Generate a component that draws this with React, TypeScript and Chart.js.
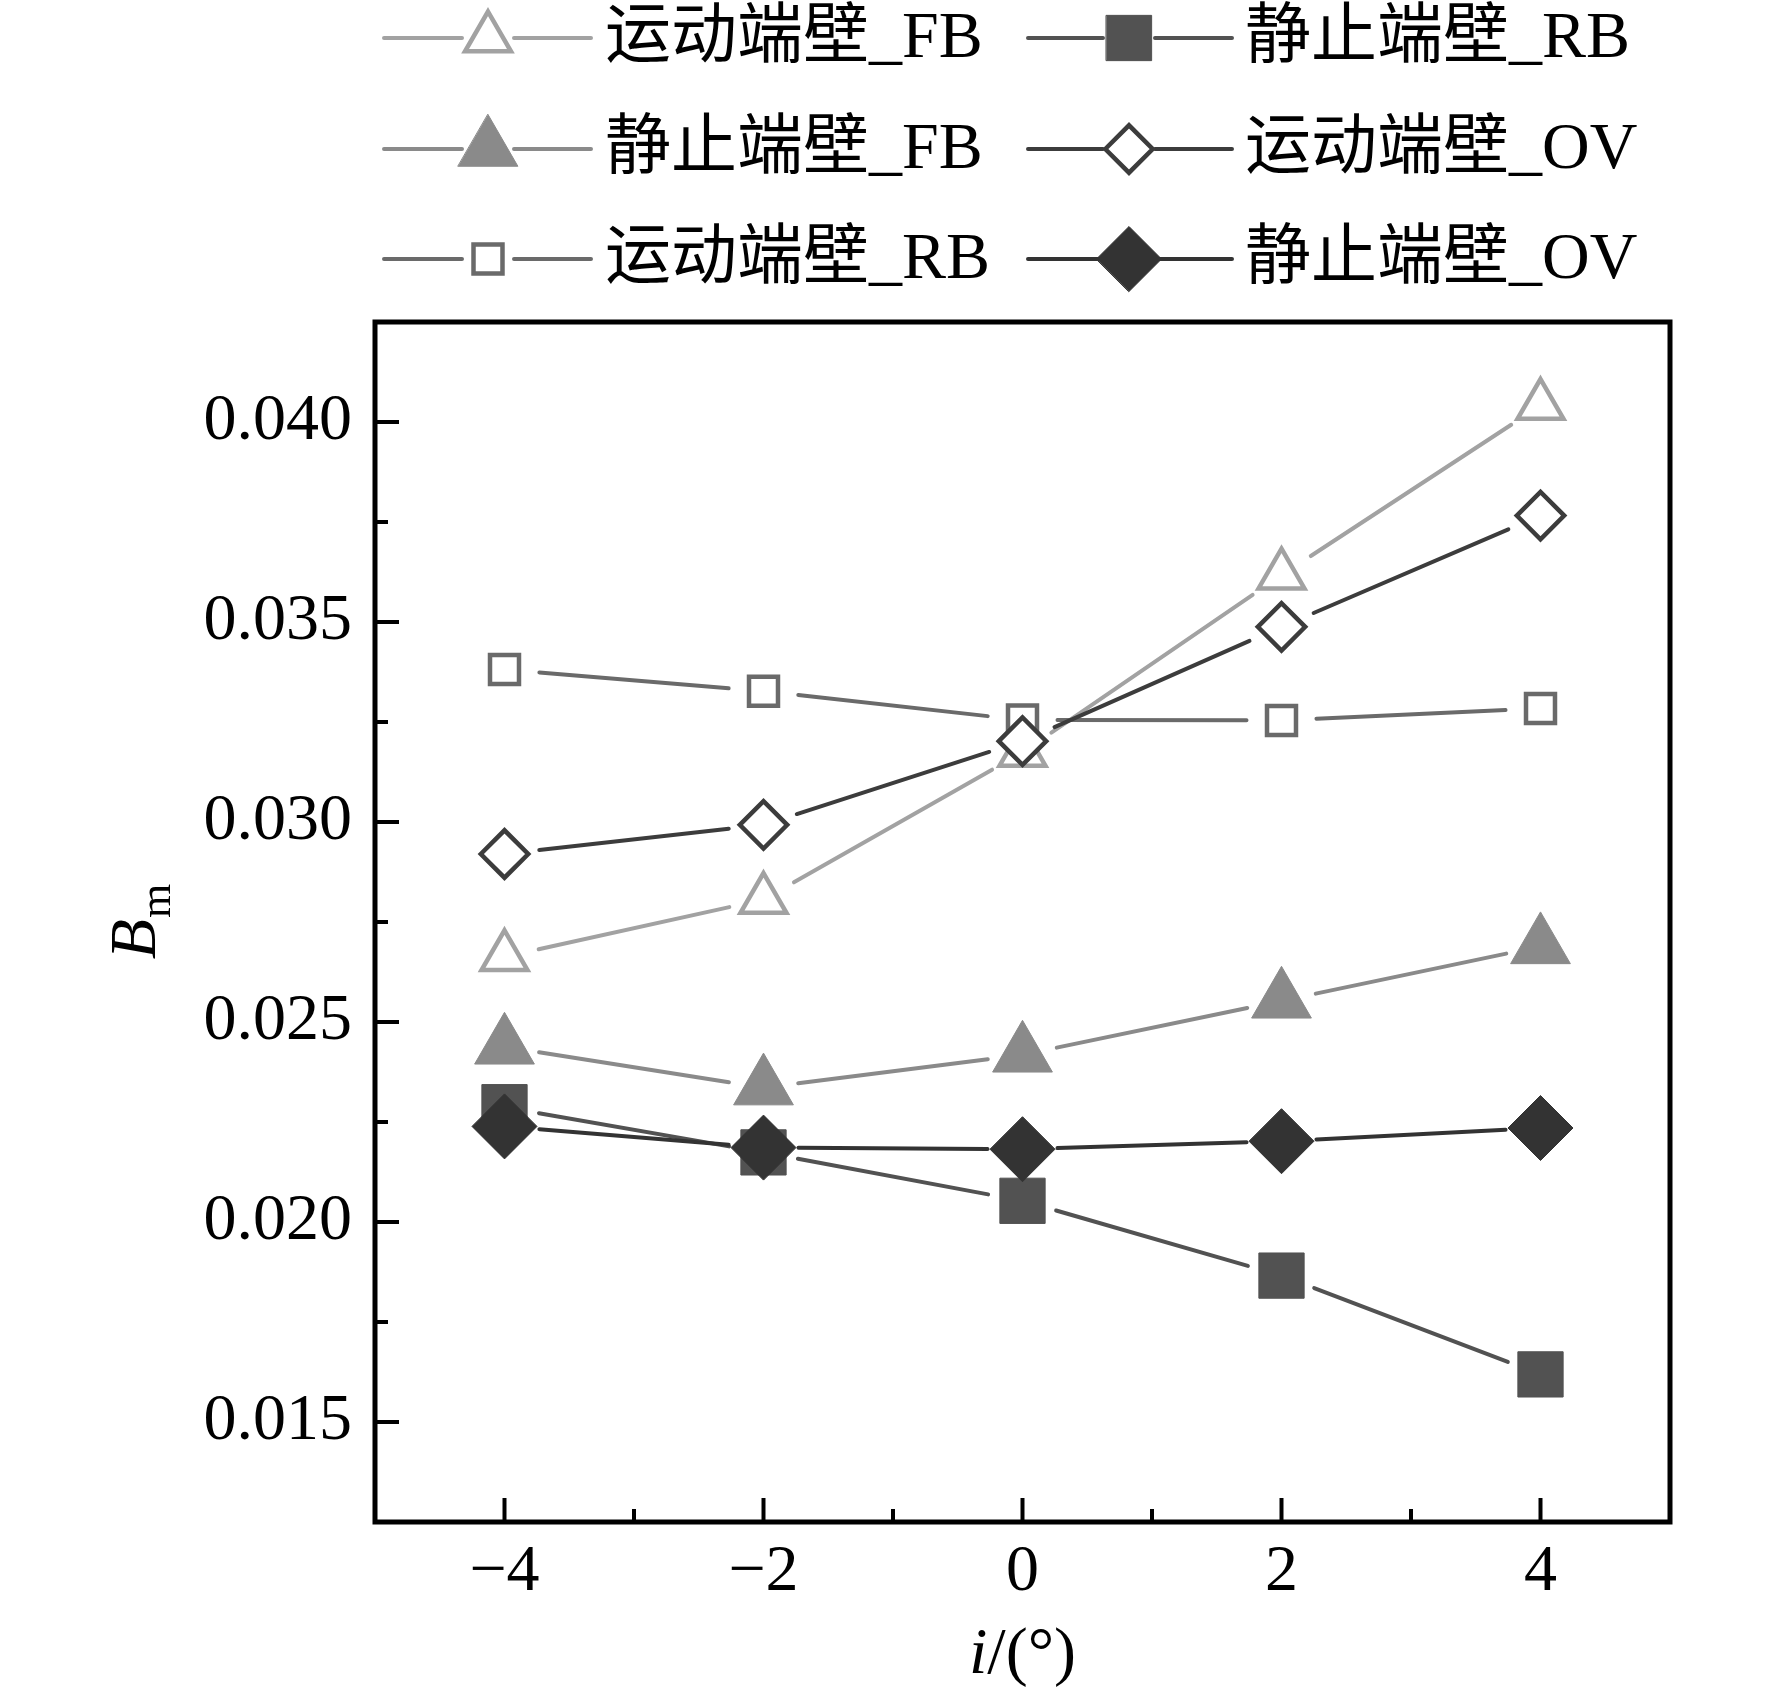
import { useEffect, useRef } from "react";
import { Chart, registerables } from "chart.js";
import type { Plugin } from "chart.js";
import { drawPoint } from "chart.js/helpers";

Chart.register(...registerables);

// incidence angle i (deg) and B_m per case
const incidence = [-4, -2, 0, 2, 4];
const movingFB = [0.02663, 0.02806, 0.03174, 0.03617, 0.04041];
const staticFB = [0.02438, 0.02336, 0.02418, 0.02553, 0.02689];
const movingRB = [0.03381, 0.03327, 0.03255, 0.03254, 0.03284];
const staticRB = [0.02287, 0.02174, 0.02053, 0.01866, 0.01619];
const movingOV = [0.0292, 0.02993, 0.03202, 0.03488, 0.03766];
const staticOV = [0.02239, 0.02186, 0.02182, 0.02202, 0.02235];

const seriesNames = ["运动端壁_FB", "静止端壁_FB", "运动端壁_RB", "静止端壁_RB", "运动端壁_OV", "静止端壁_OV"];
const seriesValues = [movingFB, staticFB, movingRB, staticRB, movingOV, staticOV];

const xTicks = [-4, -2, 0, 2, 4];
const xMinorTicks = [-3, -1, 1, 3];
const yTicks = [0.015, 0.02, 0.025, 0.03, 0.035, 0.04];
const yMinorTicks = [0.0175, 0.0225, 0.0275, 0.0325, 0.0375];

type Marker = { color: string; pointStyle: "triangle" | "rect" | "rectRot"; radius: number; open: boolean; order: number };

const markers: Marker[] = [
  { color: "#a2a2a2", pointStyle: "triangle", radius: 26.5, open: true, order: 5 },
  { color: "#8a8a8a", pointStyle: "triangle", radius: 34.5, open: false, order: 3 },
  { color: "#6a6a6a", pointStyle: "rect", radius: 20.5, open: true, order: 4 },
  { color: "#525252", pointStyle: "rect", radius: 32, open: false, order: 2 },
  { color: "#3c3c3c", pointStyle: "rectRot", radius: 23.7, open: true, order: 1 },
  { color: "#333333", pointStyle: "rectRot", radius: 32.5, open: false, order: 0 }
];

const serif = "'Liberation Serif', 'Times New Roman', serif";
const legendFont = "66px 'Liberation Serif', 'Noto Sans CJK SC', sans-serif";
const GAP = 35;

function markerBorder(m: Marker) {
  return m.open ? 4.5 : 1;
}

// Origin-style connecting lines that stop short of each symbol
const gappedLines: Plugin<"line"> = {
  id: "gappedLines",
  beforeDatasetsDraw(chart) {
    const { ctx } = chart;
    ctx.save();
    ctx.lineWidth = 4;
    ctx.lineCap = "round";
    chart.data.datasets.forEach((_, i) => {
      const pts = chart.getDatasetMeta(i).data;
      ctx.strokeStyle = markers[i].color;
      for (let k = 0; k < pts.length - 1; k++) {
        const a = pts[k];
        const b = pts[k + 1];
        const dx = b.x - a.x;
        const dy = b.y - a.y;
        const len = Math.hypot(dx, dy);
        if (len <= GAP * 2) continue;
        const ux = dx / len;
        const uy = dy / len;
        ctx.beginPath();
        ctx.moveTo(a.x + ux * GAP, a.y + uy * GAP);
        ctx.lineTo(b.x - ux * GAP, b.y - uy * GAP);
        ctx.stroke();
      }
    });
    ctx.restore();
  }
};

const frame: Plugin<"line"> = {
  id: "frame",
  afterDraw(chart) {
    const { ctx, chartArea } = chart;
    const { left, right, top, bottom } = chartArea;
    const xs = chart.scales.x;
    const ys = chart.scales.y;
    ctx.save();
    ctx.strokeStyle = "#000";
    ctx.lineWidth = 4;
    ctx.lineCap = "butt";
    const tick = (x1: number, y1: number, x2: number, y2: number) => {
      ctx.beginPath();
      ctx.moveTo(x1, y1);
      ctx.lineTo(x2, y2);
      ctx.stroke();
    };
    xTicks.forEach((v) => {
      const x = xs.getPixelForValue(v);
      tick(x, bottom, x, bottom - 24);
    });
    xMinorTicks.forEach((v) => {
      const x = xs.getPixelForValue(v);
      tick(x, bottom, x, bottom - 13);
    });
    yTicks.forEach((v) => {
      const y = ys.getPixelForValue(v);
      tick(left, y, left + 24, y);
    });
    yMinorTicks.forEach((v) => {
      const y = ys.getPixelForValue(v);
      tick(left, y, left + 13, y);
    });
    ctx.lineWidth = 5;
    ctx.strokeRect(left, top, right - left, bottom - top);

    // axis titles
    ctx.fillStyle = "#000";
    ctx.textBaseline = "alphabetic";
    ctx.textAlign = "left";
    ctx.font = `italic 66px ${serif}`;
    const wi = ctx.measureText("i").width;
    ctx.font = `66px ${serif}`;
    const wRest = ctx.measureText("/(°)").width;
    const xStart = (left + right) / 2 - (wi + wRest) / 2;
    ctx.font = `italic 66px ${serif}`;
    ctx.fillText("i", xStart, 1673);
    ctx.font = `66px ${serif}`;
    ctx.fillText("/(°)", xStart + wi, 1673);

    ctx.translate(138, (top + bottom) / 2);
    ctx.rotate(-Math.PI / 2);
    ctx.textBaseline = "middle";
    ctx.font = `italic 66px ${serif}`;
    const wB = ctx.measureText("B").width;
    ctx.font = `44px ${serif}`;
    const wm = ctx.measureText("m").width;
    const bStart = -(wB + wm) / 2;
    ctx.font = `italic 66px ${serif}`;
    ctx.fillText("B", bStart, 0);
    ctx.font = `44px ${serif}`;
    ctx.fillText("m", bStart + wB + 1, 20);
    ctx.restore();
  }
};

// two-column legend, filled column by column
const legendColumns = [
  { lineStart: 384, marker: 488, lineEnd: 591, text: 605 },
  { lineStart: 1028, marker: 1129, lineEnd: 1232, text: 1245 }
];
const legendRows = [38, 149, 259];

const legendBlock: Plugin<"line"> = {
  id: "legendBlock",
  afterDraw(chart) {
    const { ctx } = chart;
    ctx.save();
    seriesNames.forEach((name, i) => {
      const col = legendColumns[Math.floor(i / 3)];
      const y = legendRows[i % 3];
      const m = markers[i];
      ctx.strokeStyle = m.color;
      ctx.lineWidth = 4;
      ctx.lineCap = "round";
      ctx.beginPath();
      ctx.moveTo(col.lineStart, y);
      ctx.lineTo(col.marker - 26, y);
      ctx.moveTo(col.marker + 26, y);
      ctx.lineTo(col.lineEnd, y);
      ctx.stroke();
      ctx.fillStyle = m.open ? "#ffffff" : m.color;
      ctx.lineWidth = markerBorder(m);
      drawPoint(ctx, { pointStyle: m.pointStyle, radius: m.radius, rotation: 0, borderWidth: markerBorder(m) }, col.marker, y);
      ctx.fillStyle = "#000";
      ctx.font = legendFont;
      ctx.textAlign = "left";
      ctx.textBaseline = "middle";
      ctx.fillText(name, col.text, y + 2);
    });
    ctx.restore();
  }
};

export default function App() {
  const canvasRef = useRef<HTMLCanvasElement | null>(null);

  useEffect(() => {
    const canvas = canvasRef.current;
    if (!canvas) return;

    const chart = new Chart(canvas, {
      type: "line",
      data: {
        datasets: seriesNames.map((name, i) => ({
          label: name,
          data: incidence.map((x, k) => ({ x, y: seriesValues[i][k] })),
          showLine: false,
          order: markers[i].order,
          pointStyle: markers[i].pointStyle,
          pointRadius: markers[i].radius,
          pointBorderWidth: markerBorder(markers[i]),
          pointBorderColor: markers[i].color,
          pointBackgroundColor: markers[i].open ? "#ffffff" : markers[i].color,
          borderColor: markers[i].color,
          backgroundColor: markers[i].color,
          clip: false
        }))
      },
      options: {
        responsive: false,
        animation: false,
        events: [],
        layout: {
          padding: { top: 322, right: 102, left: 0, bottom: 0 }
        },
        plugins: {
          legend: { display: false },
          tooltip: { enabled: false }
        },
        scales: {
          x: {
            type: "linear",
            min: -5,
            max: 5,
            afterFit: (scale) => {
              scale.height = 172;
            },
            afterBuildTicks: (scale) => {
              scale.ticks = xTicks.map((value) => ({ value }));
            },
            grid: { display: false, drawTicks: false },
            border: { display: false },
            ticks: {
              padding: 11,
              color: "#000",
              font: { family: serif, size: 66, lineHeight: 1.2 },
              maxRotation: 0,
              callback: (value) => {
                const v = Number(value);
                return v < 0 ? `\u2212${Math.abs(v)}` : String(v);
              }
            }
          },
          y: {
            type: "linear",
            min: 0.0125,
            max: 0.0425,
            afterFit: (scale) => {
              scale.width = 375;
            },
            afterBuildTicks: (scale) => {
              scale.ticks = yTicks.map((value) => ({ value }));
            },
            grid: { display: false, drawTicks: false },
            border: { display: false },
            ticks: {
              padding: 23,
              color: "#000",
              font: { family: serif, size: 66 },
              callback: (value) => Number(value).toFixed(3)
            }
          }
        }
      },
      plugins: [gappedLines, frame, legendBlock]
    });

    return () => chart.destroy();
  }, []);

  return (
    <div style={{ position: "absolute", left: 0, top: 0, width: 1772, height: 1694, background: "#ffffff" }}>
      <canvas ref={canvasRef} width={1772} height={1694} />
    </div>
  );
}
